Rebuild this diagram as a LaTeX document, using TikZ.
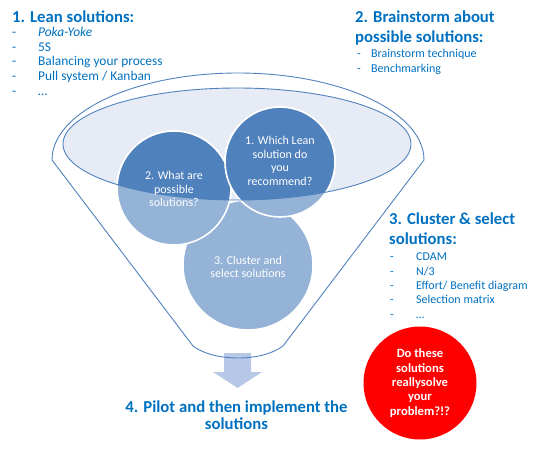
\documentclass[tikz,border=0pt]{standalone}
\usepackage{fontspec}
\setmainfont{Carlito}
\usetikzlibrary{positioning}

\definecolor{headblue}{HTML}{0070C0}
\definecolor{funnelline}{HTML}{4F81BD}
\definecolor{rimfill}{HTML}{E7EBF5}
\definecolor{darkbubble}{HTML}{4F81BD}
\definecolor{lightbubble}{HTML}{95B3D7}
\definecolor{arrowblue}{HTML}{B6C8E6}

\tikzset{
  head/.style={anchor=base west, text=headblue, align=left, inner sep=0pt,
    font=\fontsize{16.7}{20}\selectfont\bfseries},
  item/.style={anchor=base west, text=headblue, inner sep=0pt,
    font=\fontsize{12}{14}\selectfont},
  bigitem/.style={item, font=\fontsize{13.4}{14.6}\selectfont},
  funnel/.style={draw=funnelline, line width=0.9pt},
  bubble/.style={fill=lightbubble, draw=white, line width=1.6pt},
  bubbledark/.style={fill=darkbubble, draw=white, line width=1.6pt},
  bubbletext/.style={text=white, align=center, inner sep=0pt,
    font=\fontsize{12}{13.5}\selectfont},
}

\begin{document}
\begin{tikzpicture}[x=1pt,y=-1pt]
  \useasboundingbox (0,0) rectangle (552,450);

  \coordinate (q1) at (280,162);
  \coordinate (q2) at (174,188);
  \coordinate (q3) at (248,265);
  \coordinate (rim) at (237,144);

  \fill [arrowblue] (224,353) -- (251,353) -- (251,372) -- (262,372)
    -- (237.5,388) -- (213,372) -- (224,372) -- cycle;

  \draw [funnel] (52,160) arc [start angle=180, end angle=360, x radius=186, y radius=87]
    -- (283,346) .. controls (262,362) and (214,362) .. (193,346) -- cycle;

  \fill [rimfill] (rim) ellipse [x radius=174, y radius=56];

  \path [bubble] (q3) circle [radius=65];
  \path [bubble] (q2) circle [radius=57];
  \path [bubble] (q1) circle [radius=55];
  \begin{scope}
    \clip (rim) ellipse [x radius=174, y radius=56];
    \path [bubbledark] (q2) circle [radius=57];
    \path [bubbledark] (q1) circle [radius=55];
  \end{scope}

  \draw [funnel] (rim) ellipse [x radius=174, y radius=56];

  \node [bubbletext] (q1text) at ([yshift=1]q1) {1. Which Lean\\solution do\\you\\recommend?};
  \node [bubbletext] (q2text) at ([yshift=-1]q2) {2. What are\\possible\\solutions?};
  \node [bubbletext] (q3text) at ([yshift=-2]q3) {3. Cluster and\\select solutions};

  \node [head] (lean) at (12,22) {1. Lean solutions:};
  \foreach \txt [count=\i] in {\textit{Poka-Yoke}, 5S, Balancing your process, Pull system / Kanban, …} {
    \node [bigitem] (leandash\i) at (12,22+14.6*\i) {-};
    \node [bigitem] (lean\i) at (38,22+14.6*\i) {\txt};
  }

  \node [head] (brainstorm) at (355,42) {2. Brainstorm about\\possible solutions:};
  \foreach \txt [count=\i] in {Brainstorm technique, Benchmarking} {
    \node [item] (stormdash\i) at (357,42+15*\i) {-};
    \node [item] (storm\i) at (371,42+15*\i) {\txt};
  }

  \node [head] (cluster) at (389,244) {3. Cluster \& select\\solutions:};
  \foreach \txt [count=\i] in {CDAM, N/3, Effort/ Benefit diagram, Selection matrix, …} {
    \node [item] (clusterdash\i) at (390,246.5+14.3*\i) {-};
    \node [item] (cluster\i) at (416,246.5+14.3*\i) {\txt};
  }

  \node [circle, fill=red, minimum size=113pt, inner sep=0pt, text=white, align=center,
    font=\fontsize{12.6}{14.3}\selectfont\bfseries] (check) at (420,383)
    {Do these\\solutions\\reallysolve\\your\\problem?!?};

  \node [text=headblue, align=center, inner sep=0pt,
    font=\fontsize{16.7}{17.6}\selectfont\bfseries] (pilot) at (236.5,415)
    {4. Pilot and then implement the\\solutions};

\end{tikzpicture}
\end{document}
